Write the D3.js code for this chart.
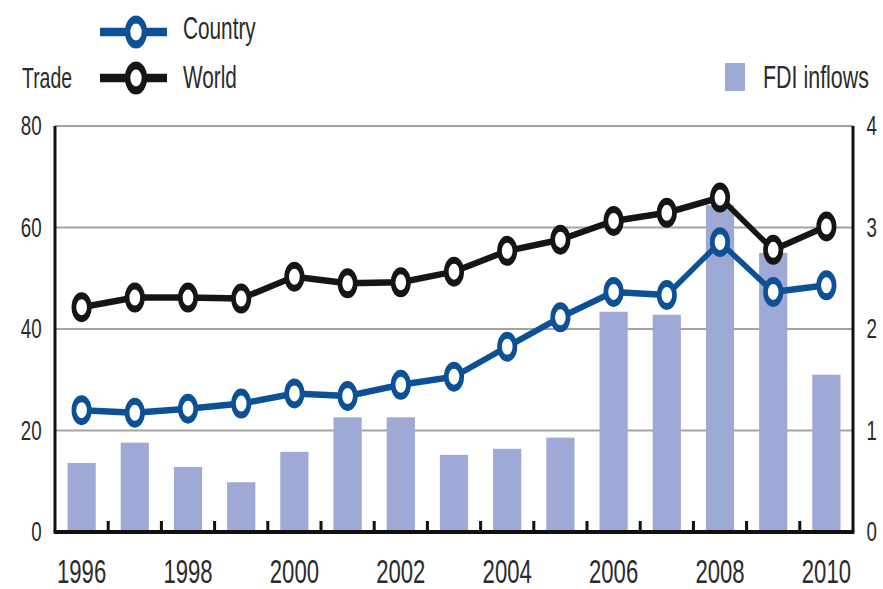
<!DOCTYPE html>
<html>
<head>
<meta charset="utf-8">
<script src="https://cdn.jsdelivr.net/npm/d3@7"></script>
<style>
  body { margin: 0; background: #ffffff; }
  text { font-family: "Liberation Sans", Arial, sans-serif; }
</style>
</head>
<body>
<div id="chart"></div>
<script>
// Data
const YEARS = [1996, 1997, 1998, 1999, 2000, 2001, 2002, 2003, 2004, 2005, 2006, 2007, 2008, 2009, 2010];
const FDI_INFLOWS = [0.68, 0.88, 0.64, 0.49, 0.79, 1.13, 1.13, 0.76, 0.82, 0.93, 2.17, 2.14, 3.22, 2.75, 1.55];
const TRADE_COUNTRY = [24.0, 23.5, 24.3, 25.3, 27.3, 26.8, 29.0, 30.6, 36.5, 42.3, 47.3, 46.7, 57.1, 47.3, 48.6];
const TRADE_WORLD = [44.3, 46.2, 46.2, 46.0, 50.3, 49.0, 49.2, 51.3, 55.4, 57.6, 61.3, 62.9, 65.9, 55.6, 60.2];
const LEFT_TICKS = [0, 20, 40, 60, 80];
const RIGHT_TICKS = [0, 1, 2, 3, 4];
const GRID_TICKS = [20, 40, 60, 80];
const YEAR_LABELS = [1996, 1998, 2000, 2002, 2004, 2006, 2008, 2010];

// Constants for the frame (drawn wide, then squeezed horizontally like the original)
const FRAME_WIDTH = 883;
const FRAME_HEIGHT = 589;
const SQUISH = 0.67;
const VB_WIDTH = FRAME_WIDTH / SQUISH;
const PLOT_LEFT = 55 / SQUISH;
const PLOT_RIGHT = 853 / SQUISH;
const PLOT_TOP = 126;
const PLOT_BOTTOM = 532;

const TEXT_COLOR = "#2b2b2b";
const COUNTRY_COLOR = "#0c5096";
const WORLD_COLOR = "#151515";
const BAR_COLOR = "#9fa9d5";
const GRID_COLOR = "#a3a3a3";

const FRAME = d3.select("#chart")
                .append("svg")
                  .attr("width", FRAME_WIDTH)
                  .attr("height", FRAME_HEIGHT)
                  .attr("viewBox", "0 0 " + VB_WIDTH + " " + FRAME_HEIGHT)
                  .attr("preserveAspectRatio", "none");

// Scales
const X_SCALE = d3.scaleBand()
                  .domain(YEARS)
                  .range([PLOT_LEFT, PLOT_RIGHT])
                  .paddingInner(0.47)
                  .paddingOuter(0.235);

const X_TICKS = d3.scaleBand()
                  .domain(YEARS)
                  .range([PLOT_LEFT, PLOT_RIGHT]);

const Y_LEFT = d3.scaleLinear()
                 .domain([0, 80])
                 .range([PLOT_BOTTOM, PLOT_TOP]);

const Y_RIGHT = d3.scaleLinear()
                  .domain([0, 4])
                  .range([PLOT_BOTTOM, PLOT_TOP]);

const xMid = (d) => X_SCALE(d) + X_SCALE.bandwidth() / 2;

// Gridlines
FRAME.selectAll(".grid")
      .data(GRID_TICKS)
      .enter()
      .append("line")
        .attr("class", "grid")
        .attr("x1", PLOT_LEFT)
        .attr("x2", PLOT_RIGHT)
        .attr("y1", (d) => Y_LEFT(d))
        .attr("y2", (d) => Y_LEFT(d))
        .attr("stroke", GRID_COLOR)
        .attr("stroke-width", 2);

// Bars (right axis)
FRAME.selectAll(".bar")
      .data(YEARS)
      .enter()
      .append("rect")
        .attr("class", "bar")
        .attr("x", (d) => X_SCALE(d))
        .attr("width", X_SCALE.bandwidth())
        .attr("y", (d, i) => Y_RIGHT(FDI_INFLOWS[i]))
        .attr("height", (d, i) => PLOT_BOTTOM - Y_RIGHT(FDI_INFLOWS[i]))
        .attr("fill", BAR_COLOR);

// Axis lines
FRAME.append("line")
      .attr("x1", PLOT_LEFT).attr("x2", PLOT_LEFT)
      .attr("y1", PLOT_TOP).attr("y2", PLOT_BOTTOM)
      .attr("stroke", "#111").attr("stroke-width", 4.5);

FRAME.append("line")
      .attr("x1", PLOT_RIGHT).attr("x2", PLOT_RIGHT)
      .attr("y1", PLOT_TOP).attr("y2", PLOT_BOTTOM)
      .attr("stroke", "#111").attr("stroke-width", 4.5);

FRAME.append("line")
      .attr("x1", PLOT_LEFT - 2).attr("x2", PLOT_RIGHT + 2)
      .attr("y1", PLOT_BOTTOM).attr("y2", PLOT_BOTTOM)
      .attr("stroke", "#111").attr("stroke-width", 4);

// Small ticks between years, pointing up
FRAME.selectAll(".xtick")
      .data(YEARS.slice(1))
      .enter()
      .append("line")
        .attr("class", "xtick")
        .attr("x1", (d) => X_TICKS(d))
        .attr("x2", (d) => X_TICKS(d))
        .attr("y1", PLOT_BOTTOM)
        .attr("y2", PLOT_BOTTOM - 11)
        .attr("stroke", "#111")
        .attr("stroke-width", 4.5);

// Left axis labels
const leftAxis = FRAME.append("g")
      .attr("transform", "translate(" + (PLOT_LEFT - 2) + ",0)")
      .call(d3.axisLeft(Y_LEFT).tickValues(LEFT_TICKS).tickSize(0).tickPadding(18))
      .attr("font-size", 28)
      .attr("font-family", null);
leftAxis.select(".domain").remove();
leftAxis.selectAll("text").attr("fill", TEXT_COLOR);

// Right axis labels
const rightAxis = FRAME.append("g")
      .attr("transform", "translate(" + (PLOT_RIGHT + 2) + ",0)")
      .call(d3.axisRight(Y_RIGHT).tickValues(RIGHT_TICKS).tickFormat(d3.format("d"))
              .tickSize(0).tickPadding(18))
      .attr("font-size", 28)
      .attr("font-family", null);
rightAxis.select(".domain").remove();
rightAxis.selectAll("text").attr("fill", TEXT_COLOR);

// Bottom axis labels
const bottomAxis = FRAME.append("g")
      .attr("transform", "translate(0," + PLOT_BOTTOM + ")")
      .call(d3.axisBottom(X_SCALE).tickValues(YEAR_LABELS).tickSize(0).tickPadding(28))
      .attr("font-size", 33)
      .attr("font-family", null);
bottomAxis.select(".domain").remove();
bottomAxis.selectAll("text").attr("fill", TEXT_COLOR);

// Lines with markers
function drawSeries(values, color) {
  const pts = YEARS.map((y, i) => ({year: y, value: values[i]}));
  const line = d3.line()
                 .x((d) => xMid(d.year))
                 .y((d) => Y_LEFT(d.value));
  FRAME.append("path")
        .datum(pts)
        .attr("d", line)
        .attr("fill", "none")
        .attr("stroke", color)
        .attr("stroke-width", 6.5)
        .attr("stroke-linejoin", "round");
  FRAME.selectAll(null)
        .data(pts)
        .enter()
        .append("circle")
          .attr("cx", (d) => xMid(d.year))
          .attr("cy", (d) => Y_LEFT(d.value))
          .attr("r", 11.5)
          .attr("fill", "#fff")
          .attr("stroke", color)
          .attr("stroke-width", 7);
}

drawSeries(TRADE_WORLD, WORLD_COLOR);
drawSeries(TRADE_COUNTRY, COUNTRY_COLOR);

// Legend
const LEGEND = [
  {label: "Country", color: COUNTRY_COLOR, y: 32, baseline: 39},
  {label: "World", color: WORLD_COLOR, y: 78, baseline: 88}
];

LEGEND.forEach((d) => {
  FRAME.append("line")
        .attr("x1", 100 / SQUISH).attr("x2", 167 / SQUISH)
        .attr("y1", d.y).attr("y2", d.y)
        .attr("stroke", d.color)
        .attr("stroke-width", 8.5);
  FRAME.append("circle")
        .attr("cx", 136 / SQUISH).attr("cy", d.y)
        .attr("r", 12.5)
        .attr("fill", "#fff")
        .attr("stroke", d.color)
        .attr("stroke-width", 8);
  FRAME.append("text")
        .attr("x", 183 / SQUISH).attr("y", d.baseline)
        .attr("font-size", 31)
        .attr("fill", TEXT_COLOR)
        .text(d.label);
});

FRAME.append("text")
      .attr("x", 22 / SQUISH).attr("y", 88)
      .attr("font-size", 29)
      .attr("fill", TEXT_COLOR)
      .text("Trade");

FRAME.append("rect")
      .attr("x", 725 / SQUISH).attr("y", 63)
      .attr("width", 20 / SQUISH).attr("height", 28)
      .attr("fill", BAR_COLOR);

FRAME.append("text")
      .attr("x", 763 / SQUISH).attr("y", 88)
      .attr("font-size", 32)
      .attr("fill", TEXT_COLOR)
      .text("FDI inflows");
</script>
</body>
</html>
